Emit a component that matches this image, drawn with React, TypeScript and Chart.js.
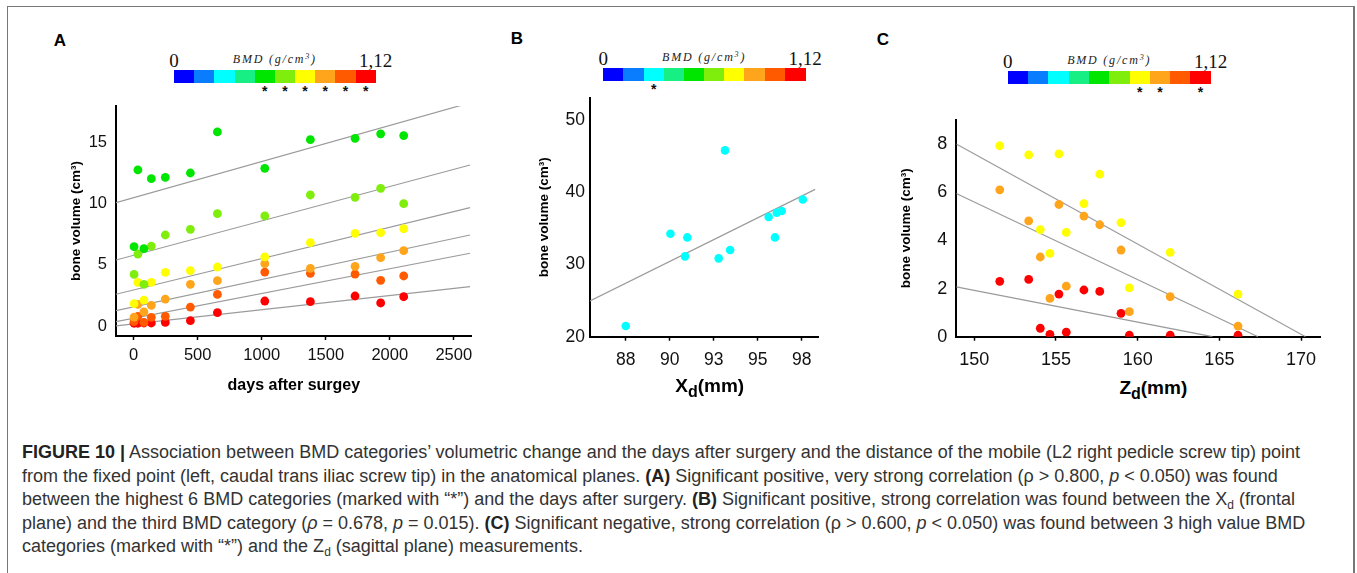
import React, { useEffect, useRef } from "react";
import { Chart, registerables } from "chart.js";

Chart.register(...registerables);

const SANS = "'Liberation Sans', Arial, Helvetica, sans-serif";
const SERIF = "'Liberation Serif', 'Times New Roman', serif";

// ---------- colour scale (10 BMD categories, 0 .. 1,12 g/cm3) ----------
const BMD_COLORS = ["#0000ff", "#0a7dff", "#00ffff", "#17ef84", "#00e600", "#7fee0c", "#ffff00", "#ffa51c", "#ff5a00", "#ff0000"];
const BMD_MIN_LABEL = "0";
const BMD_MAX_LABEL = "1,12";
const STARS_A = [4, 5, 6, 7, 8, 9];
const STARS_B = [2];
const STARS_C = [6, 7, 9];

// ---------- Panel A : days after surgery ----------
const daysA = [3, 33, 80, 138, 247, 443, 654, 1024, 1380, 1729, 1929, 2109];
const volA_cat5 = [6.49, 12.74, 6.33, 12.03, 12.14, 12.49, 15.84, 12.87, 15.21, 15.32, 15.68, 15.54];
const volA_cat6 = [4.23, 5.89, 3.42, 6.54, 7.44, 7.9, 9.18, 8.99, 10.7, 10.51, 11.24, 9.99];
const volA_cat7 = [1.84, 3.58, 2.14, 3.58, 4.4, 4.53, 4.83, 5.65, 6.81, 7.57, 7.63, 7.95];
const volA_cat8 = [0.75, 1.79, 1.17, 1.71, 2.22, 3.42, 3.72, 5.1, 4.72, 4.89, 5.59, 6.16];
const volA_cat9 = [0.38, 0.81, 0.32, 0.73, 0.81, 1.57, 2.6, 4.42, 4.32, 4.26, 3.75, 4.1];
const volA_cat10 = [0.25, 0.25, 0.27, 0.27, 0.32, 0.46, 1.11, 2.06, 2.01, 2.47, 1.9, 2.41];
const fitA_days = [-138, 2627];
const fitA_cat5 = [10.07, 18.21];
const fitA_cat6 = [5.4, 13.14];
const fitA_cat7 = [2.61, 9.67];
const fitA_cat8 = [1.27, 7.44];
const fitA_cat9 = [0.38, 5.95];
const fitA_cat10 = [0.03, 3.23];
const xTicksA = [0, 500, 1000, 1500, 2000, 2500];
const xLabelsA = ["0", "500", "1000", "1500", "2000", "2500"];
const yTicksA = [0, 5, 10, 15];
const yLabelsA = ["0", "5", "10", "15"];

// ---------- Panel B : Xd (mm) ----------
const xdB = [88.0, 90.54, 91.37, 91.5, 93.28, 93.64, 93.93, 96.12, 96.48, 96.58, 96.86, 98.06];
const volB = [21.48, 34.26, 31.12, 33.75, 30.85, 45.8, 32.0, 36.57, 33.75, 37.17, 37.4, 39.01];
const fitB_xd = [85.97, 98.76];
const fitB_vol = [24.94, 40.4];
const xTicksB = [88, 90.5, 93, 95.5, 98];
const xLabelsB = ["88", "90", "93", "95", "98"];
const yTicksB = [20, 30, 40, 50];
const yLabelsB = ["20", "30", "40", "50"];

// ---------- Panel C : Zd (mm) ----------
const zdC = [151.56, 153.33, 154.04, 154.63, 155.18, 155.63, 156.71, 157.68, 158.98, 159.49, 161.99, 166.14];
const volC_cat7 = [7.93, 7.55, 4.45, 3.46, 7.59, 4.33, 5.53, 6.75, 4.74, 2.03, 3.5, 1.77];
const volC_cat8 = [6.1, 4.81, 3.31, 1.59, 5.49, 2.1, 5.01, 4.65, 3.6, 1.04, 1.66, 0.44];
const volC_cat10 = [2.3, 2.38, 0.35, 0.1, 1.77, 0.19, 1.94, 1.88, 0.97, 0.06, 0.06, 0.06];
const fitC_cat7_zd = [148.9, 170.27];
const fitC_cat7 = [8.0, 0];
const fitC_cat8_zd = [148.9, 167.36];
const fitC_cat8 = [5.95, 0];
const fitC_cat10_zd = [148.9, 164.57];
const fitC_cat10 = [2.07, 0];
const xTicksC = [150, 155, 160, 165, 170];
const xLabelsC = ["150", "155", "160", "165", "170"];
const yTicksC = [0, 2, 4, 6, 8];
const yLabelsC = ["0", "2", "4", "6", "8"];

const Y_TITLE = "bone volume (cm\u00b3)";
const FIT_COLOR = "#9b9b9b";

const pts = (xs: number[], ys: number[]) => xs.map((x, i) => ({ x, y: ys[i] }));

const pointSet = (xs: number[], ys: number[], color: string, r: number) => ({
  data: pts(xs, ys),
  showLine: false,
  pointRadius: r,
  pointHoverRadius: r,
  pointBackgroundColor: color,
  pointBorderWidth: 0,
  borderWidth: 0,
  order: 1,
});

const fitSet = (xs: number[], ys: number[]) => ({
  data: pts(xs, ys),
  showLine: true,
  borderColor: FIT_COLOR,
  borderWidth: 1.2,
  pointRadius: 0,
  pointHoverRadius: 0,
  fill: false,
  order: 2,
});

type Geo = { left: number; top: number; width: number; height: number; L: number; T: number; R: number; B: number };

type PanelCfg = {
  xMin: number; xMax: number; yMin: number; yMax: number;
  xTicks: number[]; xLabels: string[]; yTicks: number[]; yLabels: string[];
  tickSize: number; xPad: number; yPad: number;
  xTitle?: string; xTitleSize?: number;
  datasets: any[];
};

function buildConfig(g: Geo, c: PanelCfg): any {
  const padTop = g.T - g.top;
  const padRight = g.left + g.width - g.R;
  const yW = g.L - g.left;
  const xH = g.top + g.height - g.B;
  return {
    type: "scatter",
    data: { datasets: c.datasets },
    options: {
      responsive: false,
      animation: false,
      devicePixelRatio: 1,
      events: [],
      layout: { padding: { top: padTop, right: padRight, left: 0, bottom: 0 } },
      plugins: { legend: { display: false }, tooltip: { enabled: false } },
      scales: {
        x: {
          type: "linear",
          position: "bottom",
          min: c.xMin,
          max: c.xMax,
          afterBuildTicks: (ax: any) => { ax.ticks = c.xTicks.map((v) => ({ value: v })); },
          afterFit: (ax: any) => { ax.height = xH; },
          ticks: {
            autoSkip: false, maxRotation: 0, minRotation: 0, padding: c.xPad, color: "#111",
            font: { family: SANS, size: c.tickSize },
            callback: (_v: any, i: number) => c.xLabels[i],
          },
          grid: { display: true, drawOnChartArea: false, drawTicks: true, tickLength: 4, tickWidth: 1.5, tickColor: "#000", color: "#000" },
          border: { display: true, color: "#000", width: 2 },
          title: c.xTitle
            ? { display: true, text: c.xTitle, color: "#000", padding: 0, font: { family: SANS, size: c.xTitleSize, weight: "bold" } }
            : { display: false },
        },
        y: {
          type: "linear",
          position: "left",
          min: c.yMin,
          max: c.yMax,
          afterBuildTicks: (ax: any) => { ax.ticks = c.yTicks.map((v) => ({ value: v })); },
          afterFit: (ax: any) => { ax.width = yW; },
          ticks: {
            autoSkip: false, padding: c.yPad, color: "#111",
            font: { family: SANS, size: c.tickSize },
            callback: (_v: any, i: number) => c.yLabels[i],
          },
          grid: { display: false, drawTicks: false },
          border: { display: true, color: "#000", width: 2 },
          title: { display: true, text: Y_TITLE, color: "#000", padding: 0, font: { family: SANS, size: 13.5, weight: "bold" } },
        },
      },
    },
  };
}

function ScatterPanel({ geo, cfg }: { geo: Geo; cfg: PanelCfg }) {
  const ref = useRef<HTMLCanvasElement>(null);
  useEffect(() => {
    const chart = new Chart(ref.current as HTMLCanvasElement, buildConfig(geo, cfg));
    return () => chart.destroy();
  }, []);
  return (
    <canvas
      ref={ref}
      width={geo.width}
      height={geo.height}
      style={{ position: "absolute", left: geo.left, top: geo.top, width: geo.width, height: geo.height }}
    />
  );
}

const centered = (cx: number, cy: number, extra: any = {}): any => ({
  position: "absolute",
  left: cx,
  top: cy,
  transform: "translate(-50%, -50%)",
  whiteSpace: "nowrap",
  lineHeight: 1,
  ...extra,
});

function ColorBar({ left, top, width, height, stars }: { left: number; top: number; width: number; height: number; stars: number[] }) {
  const seg = width / BMD_COLORS.length;
  return (
    <>
      {BMD_COLORS.map((c, i) => (
        <div key={i} style={{ position: "absolute", left: left + i * seg, top, width: seg + 0.6, height, background: c }} />
      ))}
      <div style={centered(left, top - 10.5, { fontFamily: SERIF, fontSize: 19, color: "#111" })}>{BMD_MIN_LABEL}</div>
      <div style={centered(left + width, top - 10.5, { fontFamily: SERIF, fontSize: 19, color: "#111" })}>{BMD_MAX_LABEL}</div>
      <div style={centered(left + width / 2, top - 11, { fontFamily: SERIF, fontStyle: "italic", fontSize: 12, letterSpacing: 1.8, color: "#222" })}>
        BMD (g/cm<sup style={{ fontSize: 8, verticalAlign: 4 }}>3</sup>)
      </div>
      {stars.map((s) => (
        <div key={s} style={centered(left + seg * (s + 0.5), top + height + 8, { fontFamily: SANS, fontWeight: "bold", fontSize: 14, color: "#111" })}>*</div>
      ))}
    </>
  );
}

const geoA: Geo = { left: 68, top: 82, width: 414, height: 313, L: 116, T: 106, R: 471.7, B: 336 };
const geoB: Geo = { left: 536, top: 73, width: 292, height: 302, L: 590, T: 97.7, R: 818.3, B: 336.7 };
const geoC: Geo = { left: 898, top: 96, width: 433, height: 279, L: 956.3, T: 120, R: 1320.7, B: 336.7 };

const cfgA: PanelCfg = {
  xMin: -138, xMax: 2640, yMin: -0.79, yMax: 17.95,
  xTicks: xTicksA, xLabels: xLabelsA, yTicks: yTicksA, yLabels: yLabelsA,
  tickSize: 16.5, xPad: 6, yPad: 9,
  xTitle: "days after surgey", xTitleSize: 16,
  datasets: [
    fitSet(fitA_days, fitA_cat5),
    fitSet(fitA_days, fitA_cat6),
    fitSet(fitA_days, fitA_cat7),
    fitSet(fitA_days, fitA_cat8),
    fitSet(fitA_days, fitA_cat9),
    fitSet(fitA_days, fitA_cat10),
    pointSet(daysA, volA_cat5, BMD_COLORS[4], 4.4),
    pointSet(daysA, volA_cat6, BMD_COLORS[5], 4.4),
    pointSet(daysA, volA_cat7, BMD_COLORS[6], 4.4),
    pointSet(daysA, volA_cat8, BMD_COLORS[7], 4.4),
    pointSet(daysA, volA_cat9, BMD_COLORS[8], 4.4),
    pointSet(daysA, volA_cat10, BMD_COLORS[9], 4.4),
  ],
};

const cfgB: PanelCfg = {
  xMin: 85.97, xMax: 98.94, yMin: 20, yMax: 53.1,
  xTicks: xTicksB, xLabels: xLabelsB, yTicks: yTicksB, yLabels: yLabelsB,
  tickSize: 17.5, xPad: 9, yPad: 5,
  datasets: [fitSet(fitB_xd, fitB_vol), pointSet(xdB, volB, BMD_COLORS[2], 4.3)],
};

const cfgC: PanelCfg = {
  xMin: 148.9, xMax: 171.2, yMin: 0, yMax: 9,
  xTicks: xTicksC, xLabels: xLabelsC, yTicks: yTicksC, yLabels: yLabelsC,
  tickSize: 18, xPad: 8.5, yPad: 9,
  datasets: [
    fitSet(fitC_cat7_zd, fitC_cat7),
    fitSet(fitC_cat8_zd, fitC_cat8),
    fitSet(fitC_cat10_zd, fitC_cat10),
    pointSet(zdC, volC_cat7, BMD_COLORS[6], 4.4),
    pointSet(zdC, volC_cat8, BMD_COLORS[7], 4.4),
    pointSet(zdC, volC_cat10, BMD_COLORS[9], 4.4),
  ],
};

const capStyle = (cy: number): any => ({
  position: "absolute",
  left: 22,
  top: cy - 13.5,
  lineHeight: "24px",
  fontFamily: SANS,
  fontSize: 18,
  color: "#333",
  whiteSpace: "nowrap",
});

const sub = (t: string) => <sub style={{ fontSize: 12, verticalAlign: -4, lineHeight: 0 }}>{t}</sub>;

export default function App() {
  return (
    <div style={{ position: "fixed", left: 0, top: 0, width: 1357, height: 573, background: "#fff", overflow: "hidden" }}>
      <div style={{ position: "absolute", left: 7, top: 6, width: 1345, height: 620, borderLeft: "1px solid #777", borderTop: "1px solid #777", borderRight: "2px solid #777" }} />

      <div style={centered(60, 39.5, { fontFamily: SANS, fontWeight: "bold", fontSize: 17, color: "#000" })}>A</div>
      <div style={centered(517, 38, { fontFamily: SANS, fontWeight: "bold", fontSize: 17, color: "#000" })}>B</div>
      <div style={centered(883, 39, { fontFamily: SANS, fontWeight: "bold", fontSize: 17, color: "#000" })}>C</div>

      <ColorBar left={174} top={70} width={201.7} height={13.3} stars={STARS_A} />
      <ColorBar left={603.3} top={68.3} width={201.7} height={12.7} stars={STARS_B} />
      <ColorBar left={1007.7} top={71} width={203} height={13.3} stars={STARS_C} />

      <ScatterPanel geo={geoA} cfg={cfgA} />
      <ScatterPanel geo={geoB} cfg={cfgB} />
      <ScatterPanel geo={geoC} cfg={cfgC} />

      <div style={centered(709.7, 385, { fontFamily: SANS, fontWeight: "bold", fontSize: 19, color: "#000" })}>
        X<span style={{ fontSize: 16, position: "relative", top: 5 }}>d</span>(mm)
      </div>
      <div style={centered(1153.3, 386.7, { fontFamily: SANS, fontWeight: "bold", fontSize: 19, color: "#000" })}>
        Z<span style={{ fontSize: 16, position: "relative", top: 5 }}>d</span>(mm)
      </div>

      <div style={capStyle(453)}>
        <b style={{ color: "#222" }}>FIGURE 10 |</b> Association between BMD categories’ volumetric change and the days after surgery and the distance of the mobile (L2 right pedicle screw tip) point
      </div>
      <div style={capStyle(477)}>
        from the fixed point (left, caudal trans iliac screw tip) in the anatomical planes. <b style={{ color: "#222" }}>(A)</b> Significant positive, very strong correlation (ρ &gt; 0.800, <i>p</i> &lt; 0.050) was found
      </div>
      <div style={capStyle(500.5)}>
        between the highest 6 BMD categories (marked with “*”) and the days after surgery. <b style={{ color: "#222" }}>(B)</b> Significant positive, strong correlation was found between the X{sub("d")} (frontal
      </div>
      <div style={capStyle(524)}>
        plane) and the third BMD category (<i>ρ</i> = 0.678, <i>p</i> = 0.015). <b style={{ color: "#222" }}>(C)</b> Significant negative, strong correlation (ρ &gt; 0.600, <i>p</i> &lt; 0.050) was found between 3 high value BMD
      </div>
      <div style={capStyle(547.5)}>
        categories (marked with “*”) and the Z{sub("d")} (sagittal plane) measurements.
      </div>
    </div>
  );
}
